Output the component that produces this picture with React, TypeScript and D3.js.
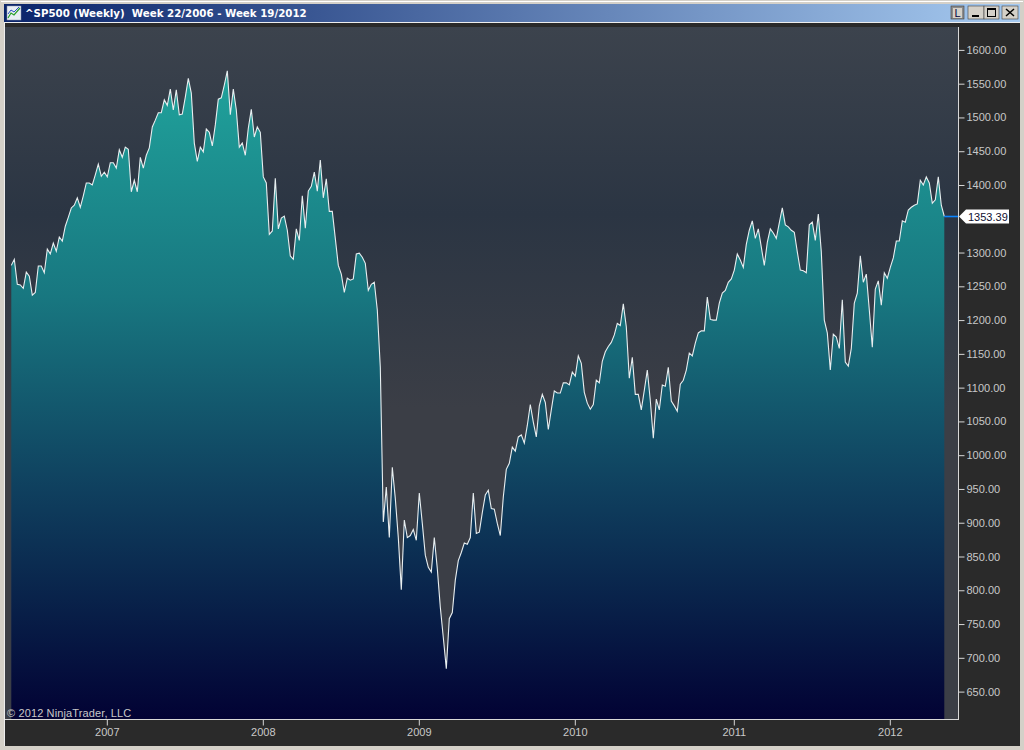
import React, { useEffect, useRef } from 'react';
import * as d3 from 'd3';

const TITLE = '^SP500 (Weekly)  Week 22/2006 - Week 19/2012';
const COPYRIGHT = '© 2012 NinjaTrader, LLC';

// weekly closes, week 22/2006 to week 19/2012
const closes = [
  1281, 1290, 1253, 1252, 1247, 1271, 1265, 1237, 1241, 1280, 1280, 1270, 1305, 1298, 1314, 1302,
  1323, 1317, 1339, 1352, 1366, 1370, 1381, 1367, 1384, 1403, 1403, 1400, 1415, 1431, 1413, 1419,
  1412, 1433, 1433, 1425, 1452, 1441, 1456, 1453, 1390, 1407, 1390, 1441, 1425, 1444, 1455, 1486,
  1496, 1507, 1507, 1526, 1518, 1542, 1511, 1541, 1504, 1505, 1530, 1558, 1536, 1462, 1435, 1456,
  1449, 1483, 1478, 1458, 1489, 1527, 1529, 1548, 1569, 1504, 1542, 1511, 1456, 1462, 1444, 1484,
  1512, 1471, 1486, 1478, 1412, 1403, 1327, 1332, 1410, 1335, 1351, 1354, 1333, 1295, 1290, 1335,
  1318, 1384, 1336, 1391, 1398, 1419, 1391, 1437, 1381, 1409, 1361, 1361, 1321, 1281, 1268, 1241,
  1262, 1259, 1261, 1298, 1299, 1293, 1284, 1244, 1253, 1256, 1215, 1130, 901, 953, 878, 982,
  936, 878, 801, 904, 878, 881, 890, 874, 944, 899, 852, 834, 827, 878, 832, 775,
  730, 684, 758, 767, 815, 844, 856, 870, 868, 878, 944, 884, 886, 915, 941, 948,
  921, 920, 899, 881, 938, 979, 988, 1012, 1006, 1027, 1030, 1018, 1044, 1075, 1049, 1027,
  1073, 1090, 1078, 1038, 1067, 1095, 1092, 1092, 1107, 1107, 1104, 1123, 1117, 1147, 1136, 1093,
  1077, 1068, 1075, 1111, 1107, 1139, 1153, 1161, 1167, 1178, 1195, 1192, 1224, 1190, 1114, 1145,
  1090, 1090, 1067, 1096, 1126, 1081, 1025, 1083, 1067, 1104, 1102, 1130, 1080, 1073, 1065, 1105,
  1111, 1126, 1151, 1147, 1166, 1181, 1184, 1184, 1234, 1201, 1200, 1200, 1225, 1240, 1244, 1256,
  1261, 1274, 1298, 1289, 1278, 1312, 1333, 1347, 1321, 1335, 1308, 1281, 1315, 1335, 1329, 1321,
  1344, 1366, 1341, 1338, 1333, 1330, 1301, 1274, 1273, 1270, 1341, 1345, 1318, 1357, 1301, 1200,
  1181, 1126, 1179, 1175, 1158, 1230, 1138, 1132, 1158, 1225, 1240, 1295, 1256, 1268, 1215, 1160,
  1246, 1258, 1222, 1270, 1262, 1278, 1292, 1317, 1317, 1347, 1345, 1363, 1367, 1370, 1372, 1407,
  1400, 1412, 1403, 1373, 1378, 1412, 1370, 1353.39,
];

// 1350 sits under the last price marker in the reference
const priceTicks = d3.range(650, 1601, 50).filter(d => d !== 1350);
const years = ['2007', '2008', '2009', '2010', '2011', '2012'];
const yearWeeks = [32, 84, 136, 188, 241, 293]; // index of first week of the year

const FONT = '"Liberation Sans", Arial, sans-serif';

export default function App() {
  const svgRef = useRef<SVGSVGElement>(null);

  useEffect(() => {
    if (!svgRef.current) return;
    const svg = d3.select(svgRef.current);
    svg.selectAll('*').remove();

    const left = 5, right = 958, top = 27, bottom = 719;
    const x = d3.scaleLinear().domain([0, closes.length - 1]).range([11.3, 944.3]);
    const y = d3.scaleLinear().domain([650, 1600]).range([691.6, 49.9]);

    const defs = svg.append('defs');
    const addGrad = (id: string, y1: number, y2: number, stops: [number, string][]) => {
      const g = defs.append('linearGradient').attr('id', id)
        .attr('gradientUnits', 'userSpaceOnUse')
        .attr('x1', 0).attr('x2', 0).attr('y1', y1).attr('y2', y2);
      stops.forEach(s => g.append('stop').attr('offset', s[0]).attr('stop-color', s[1]));
    };
    addGrad('bg', top, bottom, [[0, '#3c434d'], [0.27, '#2b3543'], [0.55, '#3b3e46'], [1, '#3b3e46']]);
    addGrad('area', 70, bottom, [[0, '#20a39c'], [0.35, '#187780'], [0.65, '#0f3f5e'], [1, '#020234']]);

    const title = defs.append('linearGradient').attr('id', 'title');
    title.append('stop').attr('offset', 0).attr('stop-color', '#0a246a');
    title.append('stop').attr('offset', 1).attr('stop-color', '#a6caf0');

    // window frame
    svg.append('rect').attr('width', 1024).attr('height', 750).attr('fill', '#d4d0c8');
    svg.append('rect').attr('x', 1).attr('y', 1).attr('width', 1022).attr('height', 1).attr('fill', '#fff');
    svg.append('rect').attr('x', 4).attr('y', 4).attr('width', 1016).attr('height', 18).attr('fill', 'url(#title)');
    svg.append('rect').attr('x', 4).attr('y', 22).attr('width', 1016).attr('height', 1).attr('fill', '#eeeeee');
    svg.append('rect').attr('x', 4).attr('y', 23).attr('width', 1016).attr('height', 723).attr('fill', '#2a2a2a');
    svg.append('rect').attr('x', 4).attr('y', 23).attr('width', 1).attr('height', 723).attr('fill', '#eeeeee');

    // title icon
    const icon = svg.append('g');
    icon.append('rect').attr('x', 7).attr('y', 6).attr('width', 14).attr('height', 14).attr('fill', '#e8eef4').attr('stroke', '#8a94a8').attr('stroke-width', 0.5);
    icon.append('polyline').attr('points', '8,18 11,13 14,15 20,8').attr('fill', 'none').attr('stroke', '#2aa02a').attr('stroke-width', 1.2);
    icon.append('polyline').attr('points', '8,14 11,10 14,12 19,7').attr('fill', 'none').attr('stroke', '#2a50c0').attr('stroke-width', 1);

    svg.append('text').attr('x', 25).attr('y', 17)
      .attr('font-family', '"DejaVu Sans", sans-serif').attr('font-weight', 'bold').attr('font-size', 10.25)
      .attr('fill', '#fff').style('white-space', 'pre').text(TITLE);

    // caption buttons
    const btn = (bx: number, w: number, fill: string) =>
      svg.append('rect').attr('x', bx).attr('y', 6).attr('width', w).attr('height', 13)
        .attr('fill', fill).attr('stroke', '#404040').attr('stroke-width', 0.6);
    btn(951, 13, '#8c8c8c');
    svg.append('rect').attr('x', 953).attr('y', 8).attr('width', 9).attr('height', 10).attr('fill', '#d4d0c8');
    svg.append('text').attr('x', 957.5).attr('y', 17).attr('text-anchor', 'middle')
      .attr('font-family', FONT).attr('font-size', 11).attr('fill', '#000040').text('L');
    btn(968, 16, '#d4d0c8');
    svg.append('rect').attr('x', 972).attr('y', 15).attr('width', 7).attr('height', 2).attr('fill', '#000');
    btn(984, 15, '#d4d0c8');
    svg.append('rect').attr('x', 987.5).attr('y', 8.5).attr('width', 8).attr('height', 8).attr('fill', 'none').attr('stroke', '#000');
    svg.append('rect').attr('x', 987).attr('y', 8).attr('width', 9).attr('height', 2).attr('fill', '#000');
    btn(1002, 16, '#d4d0c8');
    svg.append('path').attr('d', 'M1006,9L1014,16M1014,9L1006,16').attr('stroke', '#000').attr('stroke-width', 1.5);

    // plot background
    svg.append('rect').attr('x', left).attr('y', top).attr('width', right - left).attr('height', bottom - top).attr('fill', 'url(#bg)');

    // price area and line
    const area = d3.area<number>().x((d, i) => x(i)).y0(bottom).y1(d => y(d));
    const line = d3.line<number>().x((d, i) => x(i)).y(d => y(d));
    svg.append('path').datum(closes).attr('d', area).attr('fill', 'url(#area)');
    svg.append('path').datum(closes).attr('d', line).attr('fill', 'none').attr('stroke', '#e8eef0').attr('stroke-width', 1.1);

    // axes
    const axisColor = '#d8d8d8';
    svg.append('line').attr('x1', left).attr('x2', right + 1).attr('y1', bottom + 0.5).attr('y2', bottom + 0.5).attr('stroke', axisColor);
    svg.append('line').attr('x1', right + 0.5).attr('x2', right + 0.5).attr('y1', top).attr('y2', bottom).attr('stroke', axisColor);

    const yAxis = svg.append('g').attr('transform', `translate(${right + 0.5},0)`)
      .call(d3.axisRight(y).tickValues(priceTicks).tickSize(6).tickPadding(2).tickFormat(d3.format('.2f') as any));
    yAxis.select('.domain').remove();
    yAxis.selectAll('line').attr('stroke', axisColor);
    yAxis.selectAll('text').attr('font-family', FONT).attr('font-size', 11).attr('fill', '#c8c8c8');

    const xAxis = svg.append('g').attr('transform', `translate(-0.5,${bottom + 0.5})`)
      .call(d3.axisBottom(x).tickValues(yearWeeks).tickSize(6).tickPadding(3).tickFormat((d, i) => years[i]));
    xAxis.select('.domain').remove();
    xAxis.selectAll('line').attr('stroke', axisColor);
    xAxis.selectAll('text').attr('font-family', FONT).attr('font-size', 11).attr('fill', '#c8c8c8');

    // last price marker
    const last = closes[closes.length - 1];
    const ly = Math.floor(y(last)) + 0.5;
    svg.append('line').attr('x1', x(closes.length - 1)).attr('x2', right).attr('y1', ly).attr('y2', ly).attr('stroke', '#0a84ff').attr('stroke-width', 1.6);
    svg.append('path').attr('d', `M${right + 1},${ly}L${right + 8},${ly - 7}H1009V${ly + 7}H${right + 8}Z`).attr('fill', '#fff');
    svg.append('text').attr('x', 968).attr('y', ly + 4).attr('font-family', FONT).attr('font-size', 11).attr('fill', '#101030').text(last.toFixed(2));

    svg.append('text').attr('x', 7).attr('y', 717).attr('font-family', FONT).attr('font-size', 11).attr('letter-spacing', 0.13).attr('fill', '#c8c8c8').text(COPYRIGHT);
  }, []);

  return <svg ref={svgRef} width={1024} height={750} style={{ position: 'absolute', left: 0, top: 0, display: 'block' }} />;
}
